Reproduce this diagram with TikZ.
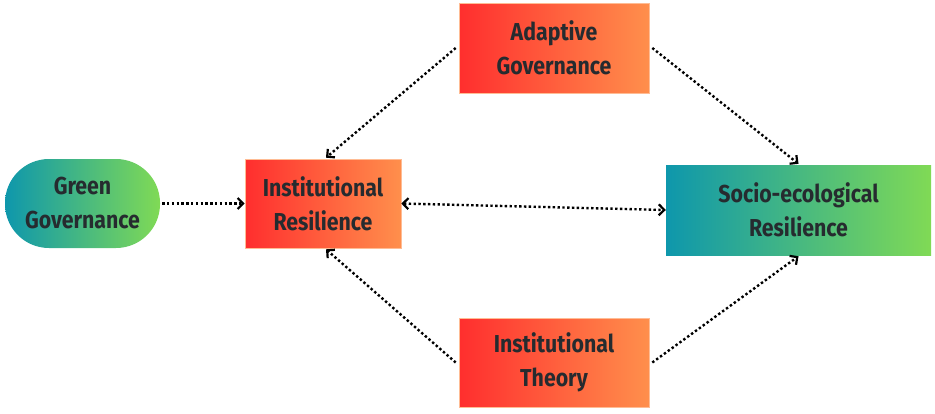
\documentclass[tikz,border=0pt]{standalone}
\usepackage{fontspec}
\setmainfont{Fira Sans}[FakeStretch=0.87]
\usetikzlibrary{arrows.meta,calc}
\definecolor{txt}{HTML}{262B2F}
\definecolor{redL}{HTML}{FF2E2E}
\definecolor{redR}{HTML}{FF8F4C}
\definecolor{tealL}{HTML}{0E97AC}
\definecolor{greenR}{HTML}{80DA55}
\tikzset{
  box/.style={shade, shading=axis, align=center, text=txt, inner sep=0pt,
    font=\fontsize{24.5}{34}\selectfont\bfseries},
  warm/.style={box, left color=redL, right color=redR, draw=redR!60, line width=0.6pt},
  cool/.style={box, left color=tealL, right color=greenR},
  arr/.style={draw=black, line width=2.4pt, dash pattern=on 2.4pt off 2.4pt, -{Straight Barb[length=5.5pt,width=11pt,line width=2.2pt]}},
  darr/.style={draw=black, line width=2.4pt, dash pattern=on 2.4pt off 2.4pt, {Straight Barb[length=5.5pt,width=11pt,line width=2.2pt]}-{Straight Barb[length=5.5pt,width=11pt,line width=2.2pt]}}
}
\begin{document}
\begin{tikzpicture}[x=1pt,y=-1pt]
\useasboundingbox (0,0) rectangle (935,413);
\node[cool, minimum width=155pt, minimum height=89pt, rounded corners=44pt] (GG) at (82.5,203.5) {Green\\Governance};
\node[warm, minimum width=156pt, minimum height=89pt] (IR) at (323,203.5) {Institutional\\Resilience};
\node[warm, minimum width=190pt, minimum height=90pt] (AG) at (554,48) {Adaptive\\Governance};
\node[cool, minimum width=265pt, minimum height=90pt] (SER) at (798.5,210) {Socio-ecological\\Resilience};
\node[warm, minimum width=190pt, minimum height=89pt] (IT) at (554,362.5) {Institutional\\Theory};
\draw[arr] ($(GG.east)+(2,0)$) -- (IR.west);
\draw[darr] (IR.east) -- (SER.west);
\draw[arr] ($(AG.west)+(-3,0)$) -- ($(IR.north)+(3,-1)$);
\draw[arr] ($(AG.east)+(3,0)$) -- ($(SER.north)+(0,-1)$);
\draw[arr] ($(IT.west)+(-3,0)$) -- ($(IR.south)+(3,1)$);
\draw[arr] ($(IT.east)+(3,0)$) -- ($(SER.south)+(0,1)$);
\end{tikzpicture}
\end{document}
